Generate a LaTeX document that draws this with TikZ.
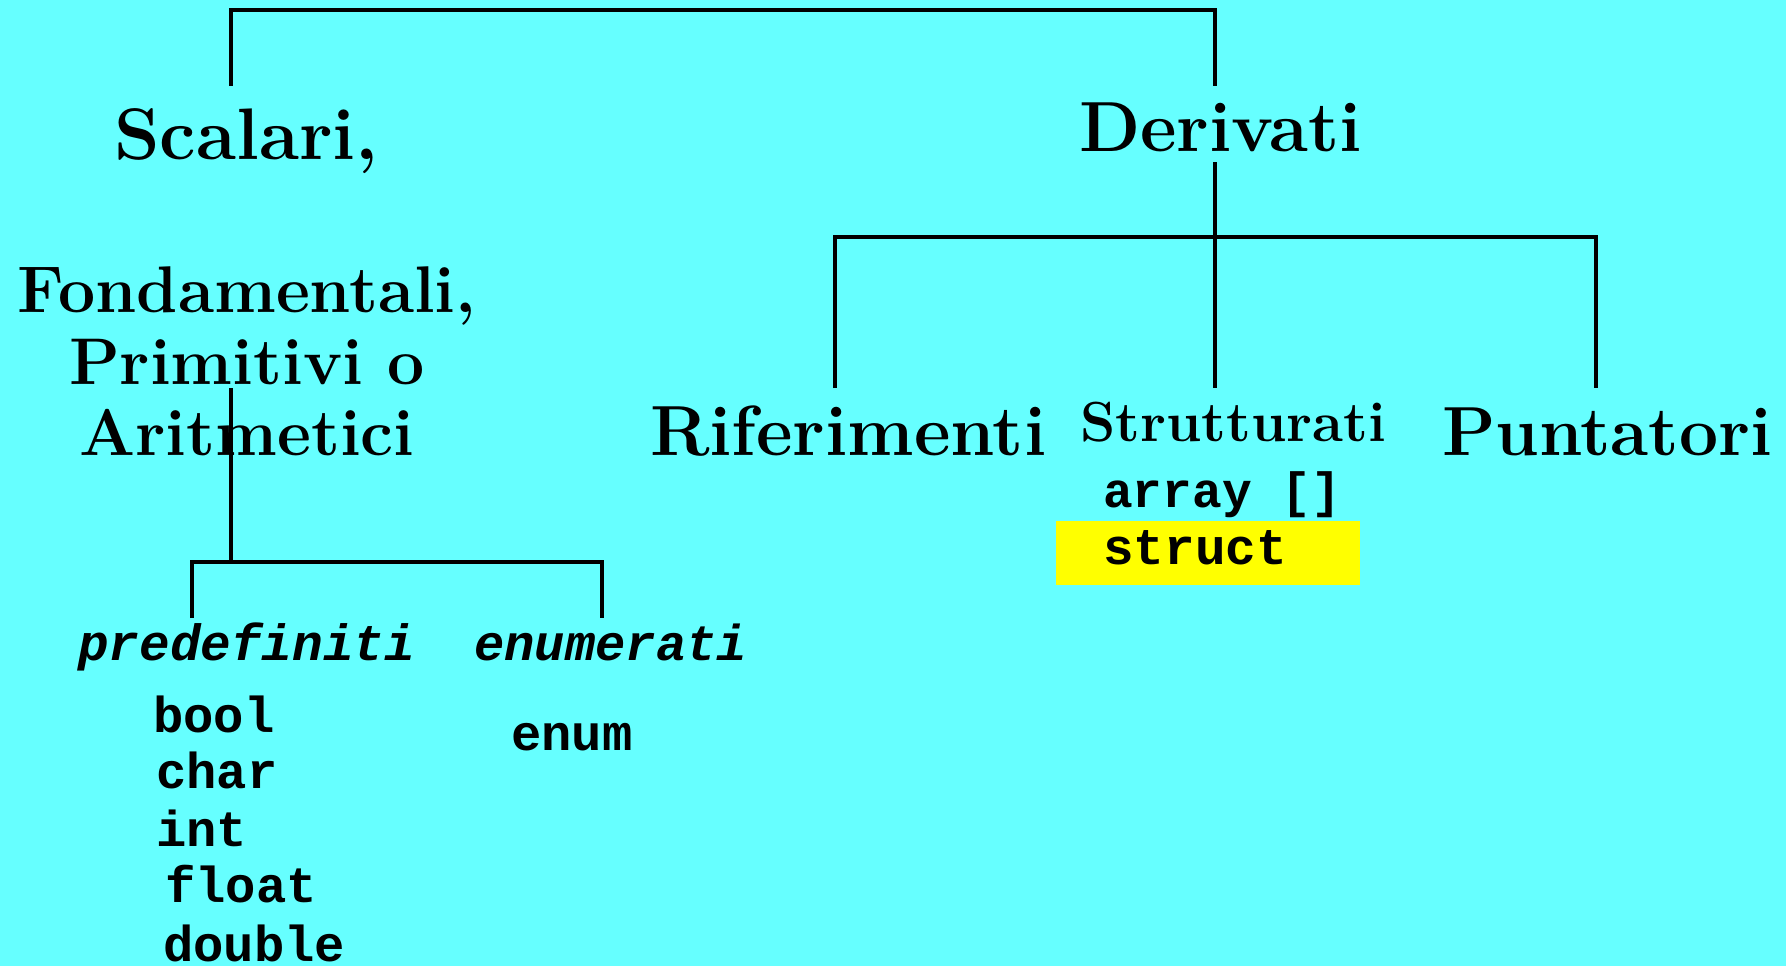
\documentclass[tikz,border=0pt]{standalone}
\usepackage{fontspec}
\setmonofont{Liberation Mono}
\definecolor{bgcyan}{HTML}{66FFFF}
\definecolor{hlyellow}{HTML}{FFFF00}
\tikzset{
  serifbf/.style={font=\fontsize{#1}{#1}\selectfont\bfseries, inner sep=0pt, anchor=base west},
  serifc/.style={font=\fontsize{#1}{#1}\selectfont\bfseries, inner sep=0pt, anchor=base},
  monobf/.style={font=\fontsize{#1}{#1}\selectfont\ttfamily\bfseries, inner sep=0pt, anchor=base west},
  monoit/.style={font=\fontsize{#1}{#1}\selectfont\ttfamily\bfseries\itshape, inner sep=0pt, anchor=base west},
  link/.style={line width=3.5pt, black},
}
\begin{document}
\begin{tikzpicture}[x=1pt, y=-1pt]
\fill[bgcyan] (0,0) rectangle (1786,966);
\useasboundingbox (0,0) rectangle (1786,966);

% text nodes
\node[serifbf=73] (scal) at (114,159) {Scalari,};
\node[serifbf=71] (deriv) at (1079,151) {Derivati};
\node[serifc=66] (fond1) at (247,312) {Fondamentali,};
\node[serifc=66] (fond2) at (247,384) {Primitivi o};
\node[serifc=66] (fond3) at (247,455) {Aritmetici};
\node[serifbf=71] (rif) at (650,455) {Riferimenti};
\node[serifbf=69.5] (punt) at (1442,455) {Puntatori};
\node[serifbf=56.5] (strut) at (1080,441) {Strutturati};

\node[fill=hlyellow, minimum width=304pt, minimum height=64pt, inner sep=0pt] (hl) at (1208,553) {};
\node[monobf=49.5] (arr) at (1103,507) {array []};
\node[monobf=51] (struct) at (1103,564) {struct};

\node[monoit=51] (predef) at (78,660) {predefiniti};
\node[monoit=50.5] (enumer) at (474,660) {enumerati};
\node[monobf=50.5] (bool) at (153,732) {bool};
\node[monobf=50.5] (char) at (156,788) {char};
\node[monobf=50.5] (int) at (156,846) {int};
\node[monobf=50.5] (float) at (165,902) {float};
\node[monobf=50.5] (double) at (163,961) {double};
\node[monobf=50.5] (enum) at (511,750) {enum};

% connector end points
\coordinate (scaltop) at (231,86);
\coordinate (derivtop) at (1215,86);
\coordinate (topbar) at (231,10);
\coordinate (derivbot) at (1215,162);
\coordinate (rifbar) at (835,237);
\coordinate (puntbar) at (1596,237);
\coordinate (riftop) at (835,388);
\coordinate (struttop) at (1215,388);
\coordinate (punttop) at (1596,388);
\coordinate (fondbot) at (231,388);
\coordinate (predbar) at (192,562);
\coordinate (enubar) at (602,562);
\coordinate (predtop) at (192,618);
\coordinate (enutop) at (602,618);

\draw[link] (scaltop) -- (topbar) -| (derivtop);
\draw[link] (derivbot) -- (struttop);
\draw[link] (riftop) -- (rifbar) -- (puntbar) -- (punttop);
\draw[link] (fondbot) -- (fondbot |- predbar);
\draw[link] (predtop) -- (predbar) -- (enubar) -- (enutop);
\end{tikzpicture}
\end{document}
